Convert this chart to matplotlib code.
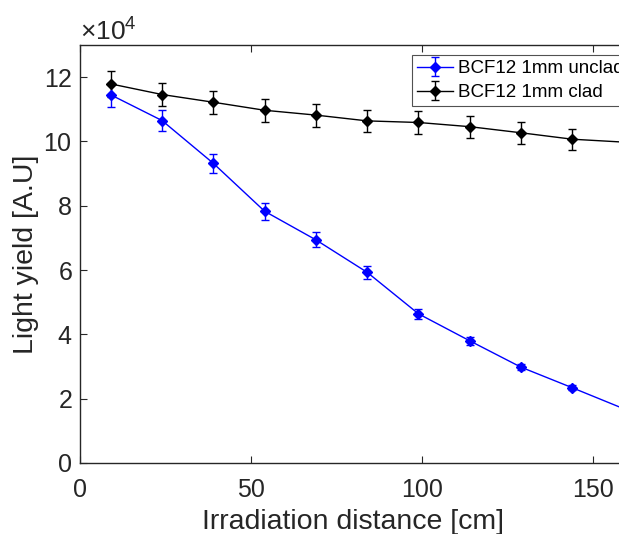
import matplotlib
matplotlib.use("Agg")
import matplotlib.pyplot as plt
from matplotlib.ticker import ScalarFormatter, MultipleLocator

plt.rcParams['font.family'] = ['Liberation Sans', 'DejaVu Sans']
plt.rcParams['mathtext.fontset'] = 'custom'
plt.rcParams['mathtext.rm'] = 'Liberation Sans'
plt.rcParams['mathtext.it'] = 'Liberation Sans'

# Irradiation positions along the fibre [cm]
distance = [9, 24, 39, 54, 69, 84, 99, 114, 129, 144, 159]

# Light yield [A.U] and uncertainties
unclad_yield = [114500, 106500, 93200, 78300, 69400, 59300, 46400, 38000, 29800, 23400, 16900]
unclad_err = [3800, 3400, 3000, 2700, 2300, 2100, 1600, 1200, 1000, 800, 600]
clad_yield = [117900, 114600, 112200, 109700, 108200, 106400, 105900, 104600, 102700, 100700, 99800]
clad_err = [4000, 3700, 3600, 3600, 3600, 3500, 3500, 3400, 3400, 3300, 3300]

series_labels = ['BCF12 1mm unclad', 'BCF12 1mm clad']
x_label = 'Irradiation distance [cm]'
y_label = 'Light yield [A.U]'

W, H = 619, 534
fig = plt.figure(figsize=(W / 100, H / 100), dpi=100)
ax_left, ax_right, ax_top, ax_bottom = 80, 627, 45, 463
ax = fig.add_axes([ax_left / W, (H - ax_bottom) / H,
                   (ax_right - ax_left) / W, (ax_bottom - ax_top) / H])

h1 = ax.errorbar(distance, unclad_yield, yerr=unclad_err, color=(0, 0, 1),
                 marker='D', markersize=5.5, lw=1.0, elinewidth=1.0,
                 capsize=3.2, capthick=1.0, label=series_labels[0])
h2 = ax.errorbar(distance, clad_yield, yerr=clad_err, color='black',
                 marker='D', markersize=5.5, lw=1.0, elinewidth=1.0,
                 capsize=3.2, capthick=1.0, label=series_labels[1])

ax.set_xlim(0, 160)
ax.set_ylim(0, 130000)
ax.xaxis.set_major_locator(MultipleLocator(50))
ax.yaxis.set_major_locator(MultipleLocator(20000))

fmt = ScalarFormatter(useMathText=True)
fmt.set_powerlimits((4, 4))
ax.yaxis.set_major_formatter(fmt)

axis_color = '#262626'
offset = ax.yaxis.get_offset_text()
offset.set_fontsize(19)
offset.set_color(axis_color)

for sp in ax.spines.values():
    sp.set_color(axis_color)
    sp.set_linewidth(1.0)
ax.tick_params(direction='in', length=5, width=0.8, colors=axis_color,
               labelsize=18, top=True, right=True)
ax.tick_params(axis='x', pad=10.5)
ax.tick_params(axis='y', pad=5.5)

ax.set_xlabel(x_label, fontsize=20.5, color=axis_color, labelpad=5)
ax.set_ylabel(y_label, fontsize=20.5, color=axis_color, labelpad=3.5)

leg = ax.legend(handles=[h1, h2], loc='upper left',
                bbox_to_anchor=(412 / W, 1 - 55 / H),
                bbox_transform=fig.transFigure, fontsize=13.5,
                frameon=True, fancybox=False, edgecolor=axis_color,
                borderpad=0.28, handlelength=1.9, handletextpad=0.27,
                labelspacing=0.35, borderaxespad=0)
leg.get_frame().set_linewidth(0.8)

fig.savefig('out.png', dpi=100)
